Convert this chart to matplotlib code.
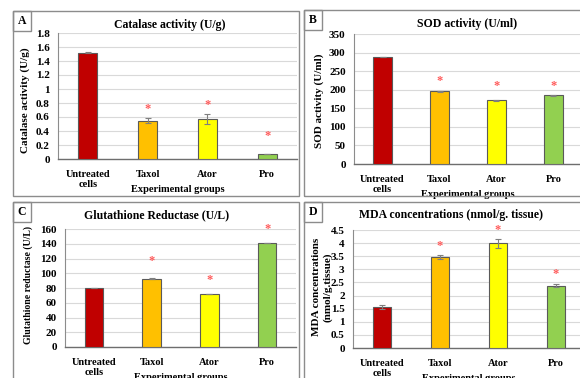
import numpy as np
import matplotlib
matplotlib.use('Agg')
import matplotlib.pyplot as plt
from matplotlib.patches import Rectangle

W, H = 580, 378

groups = ['Untreated\ncells', 'Taxol', 'Ator', 'Pro']
bar_colors = ['#C00000', '#FFC000', '#FFFF00', '#92D050']

catalase = [1.52, 0.55, 0.57, 0.07]
catalase_err = [0.01, 0.04, 0.07, 0.005]
catalase_star = [None, 0.72, 0.77, 0.33]

sod = [288, 196, 171, 185]
sod_err = [1.0, 1.0, 1.0, 1.0]
sod_star = [None, 224, 209, 210]

gr = [80, 92.5, 72, 141]
gr_err = [0.5, 0.5, 0.5, 0.5]
gr_star = [None, 116, 91, 160]

mda = [1.57, 3.46, 4.0, 2.38]
mda_err = [0.07, 0.08, 0.17, 0.05]
mda_star = [None, 3.88, 4.5, 2.83]

plt.rcParams['font.family'] = ['Liberation Serif', 'DejaVu Serif']
plt.rcParams['font.weight'] = 'bold'

fig = plt.figure(figsize=(W / 100, H / 100), dpi=100)


def px_rect(x0, y0, x1, y1):
    # pixel box (top-left origin) -> figure fraction rect
    return [x0 / W, 1 - y1 / H, (x1 - x0) / W, (y1 - y0) / H]


def panel_box(x0, y0, x1, y1, letter):
    fig.patches.append(Rectangle((x0 / W, 1 - y1 / H), (x1 - x0) / W, (y1 - y0) / H,
                                 transform=fig.transFigure, fill=False,
                                 edgecolor='#8C8C8C', linewidth=1.0))
    fig.patches.append(Rectangle((x0 / W, 1 - (y0 + 20) / H), 18 / W, 20 / H,
                                 transform=fig.transFigure, fill=False,
                                 edgecolor='#8C8C8C', linewidth=1.0))
    fig.text((x0 + 9) / W, 1 - (y0 + 10) / H, letter, ha='center', va='center',
             fontsize=8.5, fontweight='bold')


def bar_panel(rect, vals, errs, stars, ymax, step, ylabel, title, title_xy,
              ylabel_xy, ylabel_fs=8, ylabel_ls=1.0, fmt='{:g}'):
    ax = fig.add_axes(px_rect(*rect))
    x = np.arange(len(vals))
    ax.bar(x, vals, width=0.32, color=bar_colors, edgecolor='#5A5A5A',
           linewidth=0.8, zorder=3)
    ax.errorbar(x, vals, yerr=errs, fmt='none', ecolor='#7F7F7F',
                elinewidth=0.8, capsize=2, capthick=0.8, zorder=4)
    for xi, s in zip(x, stars):
        if s is not None:
            ax.text(xi, s, '*', ha='center', va='center', fontsize=9,
                    color='#FF5A5A', zorder=5)
    ax.set_xlim(-0.5, len(vals) - 0.5)
    ax.set_ylim(0, ymax)
    ticks = np.arange(0, ymax + step / 2, step)
    ax.set_yticks(ticks)
    ax.set_yticklabels([fmt.format(round(t, 2)) for t in ticks])
    ax.set_xticks(x)
    ax.set_xticklabels(groups, linespacing=1.1)
    ax.tick_params(axis='y', length=0, pad=6, labelsize=8)
    ax.tick_params(axis='x', length=0, pad=8, labelsize=7.5)
    for t in ax.get_xticklabels() + ax.get_yticklabels():
        t.set_fontweight('bold')
    ax.yaxis.grid(True, color='#D9D9D9', linewidth=0.8, zorder=0)
    for sp in ['top', 'right']:
        ax.spines[sp].set_visible(False)
    ax.spines['left'].set_color('#8C8C8C')
    ax.spines['bottom'].set_color('#6E6E6E')
    ax.spines['left'].set_linewidth(0.8)
    ax.spines['bottom'].set_linewidth(1.0)
    ax.set_xlabel('Experimental groups', fontsize=7.5, fontweight='bold',
                  labelpad=-2.5)
    fig.text(title_xy[0] / W, 1 - title_xy[1] / H, title, ha='center',
             va='center', fontsize=8.5, fontweight='bold')
    fig.text(ylabel_xy[0] / W, 1 - ylabel_xy[1] / H, ylabel, ha='center',
             va='center', rotation=90, fontsize=ylabel_fs, fontweight='bold',
             linespacing=ylabel_ls)
    return ax


panel_box(13, 11, 299, 196, 'A')
panel_box(304, 10, 640, 196, 'B')
panel_box(13, 202, 299, 420, 'C')
panel_box(304, 202, 640, 420, 'D')

bar_panel((58, 33, 297, 159), catalase, catalase_err, catalase_star, 1.8, 0.2,
          'Catalase activity (U/g)', 'Catalase activity (U/g)', (170, 25),
          (25, 100))
bar_panel((354, 34, 582, 164), sod, sod_err, sod_star, 350, 50,
          'SOD activity (U/ml)', 'SOD activity (U/ml)', (467, 24),
          (319, 101))
bar_panel((65, 229, 296, 347), gr, gr_err, gr_star, 160, 20,
          'Glutathione reductase (U/L)', 'Glutathione Reductase (U/L)',
          (157, 215), (28, 285), ylabel_fs=7)
bar_panel((353, 230, 585, 348), mda, mda_err, mda_star, 4.5, 0.5,
          'MDA concentrations\n(nmol/g.tissue)',
          'MDA concentrations (nmol/g. tissue)', (451, 215), (322, 287),
          ylabel_ls=1.25)

fig.savefig('out.png', dpi=100, facecolor='white')
